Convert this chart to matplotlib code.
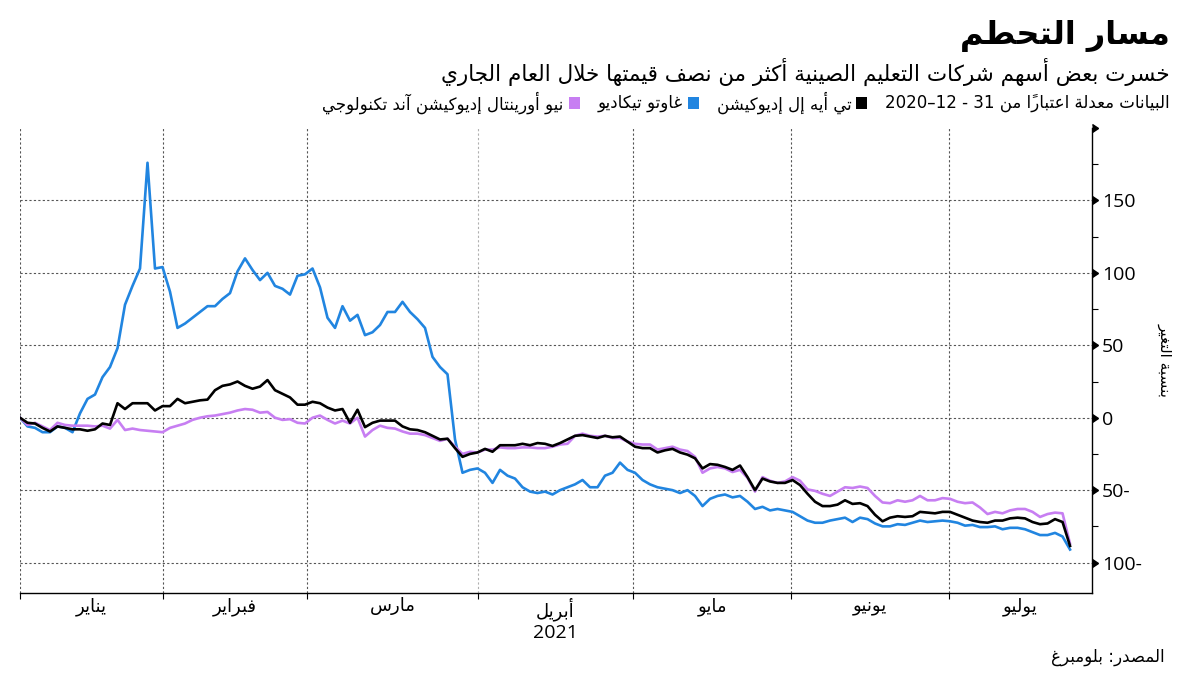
import matplotlib
matplotlib.use("Agg")
import matplotlib.pyplot as plt
import matplotlib.transforms as mtransforms
from matplotlib.patches import Rectangle
from matplotlib.ticker import FixedLocator, MultipleLocator, NullFormatter
import numpy as np

# % change since 31-12-2020, one value per trading day
tal = [0, -3.5, -4, -7, -9.5, -6, -7, -8, -8, -9, -8, -4, -5, 10, 6, 10, 10, 10, 5, 8,
       8, 13, 10, 11, 12, 12.5, 19, 22, 23, 25, 22, 20, 21.5, 26, 19, 16.5, 14, 9, 9, 11,
       10, 7, 5, 6, -3.5, 5.5, -6.5, -3.5, -2, -2, -2, -6, -8, -8.5, -10, -12.5, -15, -14.5, -21, -27,
       -25, -24, -21.5, -23.5, -19, -19, -19, -18, -19, -17.5, -18, -19.5, -17.5, -15, -12.5, -12, -13, -14, -12.5, -13.5,
       -13, -16.5, -20, -21, -21, -24, -22.5, -21.5, -24, -25.5, -28, -35, -32, -32.5, -34, -36, -33, -41, -50, -42,
       -44, -45, -45, -43, -46.5, -52.5, -58, -61, -61, -60, -57, -59.5, -59, -61, -67, -71.5, -69, -68, -68.5, -68,
       -65, -65.5, -66, -65, -65, -67, -69, -71, -72, -72.5, -71, -71, -69.5, -69, -69.5, -72, -73.5, -73, -70, -72,
       -88.5]
gaotu = [0, -6, -7, -10, -10, -6, -7, -10, 3, 13, 16, 28, 35, 48, 78, 91, 103, 176, 103, 104,
         87, 62, 65, 69, 73, 77, 77, 82, 86, 101, 110, 102, 95, 100, 91, 89, 85, 98, 99, 103,
         90, 69, 62, 77, 67, 71, 57, 59, 64, 73, 73, 80, 73, 68, 62, 42, 35, 30, -15, -38,
         -36, -35, -38, -45, -36, -40, -42, -48, -51, -52, -51, -53, -50, -48, -46, -43, -48, -48, -40, -38,
         -31, -36, -38, -43, -46, -48, -49, -50, -52, -50, -54, -61, -56, -54, -53, -55, -54, -58, -63, -61.5,
         -64, -63, -64, -65, -68, -71, -72.5, -72.5, -71, -70, -69, -72, -69, -70, -73, -75, -75, -73.5, -74, -72.5,
         -71, -72, -71.5, -71, -71.5, -72.5, -74.5, -74, -75.5, -75.5, -75, -77, -76, -76, -77, -79, -81, -81, -79.5, -82,
         -91]
new_oriental = [0, -5, -3.5, -6, -8.5, -3.5, -5, -5.5, -5.5, -5.5, -6, -5.5, -7.5, -1.5, -8.5, -7.5, -8.5, -9, -9.5, -10,
                -7, -5.5, -4, -1.5, 0, 1, 1.5, 2.5, 3.5, 5, 6, 5.5, 3.5, 4, 0, -1.5, -1, -3.5, -4, 0,
                1.5, -1.5, -4, -2, -4, 0, -13, -8.5, -5.5, -7, -7.5, -9.5, -11, -11, -12, -14, -16, -14.5, -20, -25,
                -23.5, -24, -22, -22, -20.5, -21, -21, -20.5, -20.5, -21, -21, -20, -18.5, -18, -12.5, -11, -12.5, -13, -12.5, -14,
                -14, -16.5, -18, -18.5, -18.5, -22, -21, -20, -22, -23, -27, -38, -35, -34, -35, -37.5, -36, -41.5, -51, -41,
                -43.5, -45, -44, -41, -43.5, -49.5, -50.5, -52.5, -54, -51, -48, -48.5, -47.5, -48.5, -54, -58.5, -59, -57, -58, -57,
                -54, -57, -57, -55.5, -56, -58, -59, -58.5, -62, -66.5, -65, -66, -64, -63, -63, -65, -68.5, -66.5, -65.5, -66,
                -87]

# month boundaries in trading-day units
month_edges = [0, 19.07, 38.27, 61.07, 81.73, 102.8, 123.87]
x_end = 142.93
month_names = ["يناير", "فبراير", "مارس", "أبريل", "مايو", "يونيو", "يوليو"]
year_label = "2021"
y_ticks = [-100, -50, 0, 50, 100, 150]
y_tick_labels = ["100-", "50-", "0", "50", "100", "150"]

series_names = ["تي أيه إل إديوكيشن", "غاوتو تيكاديو", "نيو أورينتال إديوكيشن آند تكنولوجي"]
series_colors = ["#000000", "#2185e0", "#c77ef2"]

title = "مسار التحطم"
subtitle = "خسرت بعض أسهم شركات التعليم الصينية أكثر من نصف قيمتها خلال العام الجاري"
note = "البيانات معدلة اعتباراً من 31 - 12–2020"
source = "المصدر: بلومبرغ"
ylabel = "بنسبة التغير"

# --- minimal arabic shaping (matplotlib has no bidi / joining) ---
ISO = {'ء': 0xFE80, 'آ': 0xFE81, 'أ': 0xFE83, 'ؤ': 0xFE85, 'إ': 0xFE87, 'ئ': 0xFE89,
       'ا': 0xFE8D, 'ب': 0xFE8F, 'ة': 0xFE93, 'ت': 0xFE95, 'ث': 0xFE99, 'ج': 0xFE9D,
       'ح': 0xFEA1, 'خ': 0xFEA5, 'د': 0xFEA9, 'ذ': 0xFEAB, 'ر': 0xFEAD, 'ز': 0xFEAF,
       'س': 0xFEB1, 'ش': 0xFEB5, 'ص': 0xFEB9, 'ض': 0xFEBD, 'ط': 0xFEC1, 'ظ': 0xFEC5,
       'ع': 0xFEC9, 'غ': 0xFECD, 'ف': 0xFED1, 'ق': 0xFED5, 'ك': 0xFED9, 'ل': 0xFEDD,
       'م': 0xFEE1, 'ن': 0xFEE5, 'ه': 0xFEE9, 'و': 0xFEED, 'ى': 0xFEEF, 'ي': 0xFEF1}
DUAL = set('ئبتثجحخسشصضطظعغفقكلمنهي')
LAMALEF = {'آ': 0xFEF5, 'أ': 0xFEF7, 'إ': 0xFEF9, 'ا': 0xFEFB}


def ar(text):
    units = []
    for ch in text:
        if '\u064b' <= ch <= '\u0652' and units:
            units[-1][1] += ch
        elif ch in LAMALEF and units and units[-1][0] == 'ل' and not units[-1][1]:
            units[-1][0] = 'ل' + ch
        elif ch.isdigit() and units and units[-1][0].isdigit():
            units[-1][0] += ch
        else:
            units.append([ch, ''])
    glyphs = []
    for k, (c, marks) in enumerate(units):
        prev = units[k - 1][0][-1] if k > 0 else ''
        nxt = units[k + 1][0][0] if k + 1 < len(units) else ''
        if len(c) == 2 and c[0] == 'ل':
            glyphs.append(chr(LAMALEF[c[1]] + (1 if prev in DUAL else 0)) + marks)
            continue
        if c not in ISO:
            glyphs.append(c + marks)
            continue
        jp = prev in DUAL and c != 'ء'
        jn = c in DUAL and nxt in ISO and nxt != 'ء'
        base = ISO[c]
        if jp and jn:
            code = base + 3
        elif jp:
            code = base + 1
        elif jn:
            code = base + 2
        else:
            code = base
        glyphs.append(chr(code) + marks)
    return ''.join(reversed(glyphs))


AR = ["DejaVu Sans"]
NUM = ["Open Sans", "DejaVu Sans"]

W, H = 1200, 675
fig = plt.figure(figsize=(12, 6.75), dpi=100)
fig.patch.set_facecolor("white")


def fx(px):
    return px / W


def fy(py):
    return 1 - py / H


ax = fig.add_axes([fx(20), fy(593), fx(1092) - fx(20), fy(128) - fy(593)])

x = np.arange(len(tal))
ax.plot(x, gaotu, color=series_colors[1], lw=1.9, zorder=3)
ax.plot(x, new_oriental, color=series_colors[2], lw=1.9, zorder=4)
ax.plot(x, tal, color=series_colors[0], lw=1.9, zorder=5)

ax.set_xlim(0, x_end)
ax.set_ylim(-121, 200)

for s in ["left", "top"]:
    ax.spines[s].set_visible(False)
ax.spines["bottom"].set_linewidth(1.0)
ax.spines["right"].set_linewidth(1.0)

# y axis on the right
ax.yaxis.tick_right()
ax.yaxis.set_major_locator(FixedLocator(y_ticks))
ax.set_yticklabels(y_tick_labels, fontsize=14, family=NUM)
ax.yaxis.set_minor_locator(MultipleLocator(25))
ax.tick_params(axis="y", which="major", length=0, pad=7)
ax.tick_params(axis="y", which="minor", length=4, width=0.8, direction="out")
tri_levels = y_ticks + [ax.get_ylim()[1]]
ax.plot([1] * len(tri_levels), tri_levels, ls="none", marker=9, ms=6, color="black",
        transform=mtransforms.blended_transform_factory(ax.transAxes, ax.transData),
        clip_on=False, zorder=6)

# x axis: month separators + centred month names
centers = [(a + b) / 2 for a, b in zip(month_edges, month_edges[1:] + [x_end])]
ax.xaxis.set_major_locator(FixedLocator(month_edges))
ax.xaxis.set_major_formatter(NullFormatter())
ax.xaxis.set_minor_locator(FixedLocator(centers))
ax.set_xticklabels([ar(m) for m in month_names], minor=True, fontsize=13, family=AR)
ax.tick_params(axis="x", which="major", length=4, width=0.8, direction="out")
ax.tick_params(axis="x", which="minor", length=0, pad=3)

ax.grid(axis="both", which="major", ls=(0, (2, 2)), color="#555555", lw=0.8)
ax.xaxis.get_gridlines()[3].set_color("#b0b0b0")
ax.set_axisbelow(True)

ax.text(centers[3], -0.085, year_label, transform=mtransforms.blended_transform_factory(ax.transData, ax.transAxes),
        ha="center", va="center", fontsize=14, family=NUM)

# titles
fig.text(fx(1170), fy(36), ar(title), ha="right", va="center", fontsize=23, fontweight="bold", family=AR)
fig.text(fx(1170), fy(72), ar(subtitle), ha="right", va="center", fontsize=15.5, family=AR)
fig.text(fx(1165), fy(657), ar(source), ha="right", va="center", fontsize=12, family=AR)
fig.text(fx(1165), fy(360), ar(ylabel), ha="center", va="center", rotation=270, fontsize=11, family=AR)

# legend row, laid out right to left
renderer = fig.canvas.get_renderer()
xr = 1170
t = fig.text(fx(xr), fy(103), ar(note), ha="right", va="center", fontsize=12, family=AR)
xr = t.get_window_extent(renderer).x0 - 18
for name, col in zip(series_names, series_colors):
    fig.patches.append(Rectangle((fx(xr - 11), fy(109)), 11 / W, 12 / H, transform=fig.transFigure,
                                 facecolor=col, edgecolor="none"))
    xr -= 16
    t = fig.text(fx(xr), fy(103), ar(name), ha="right", va="center", fontsize=12, family=AR)
    xr = t.get_window_extent(renderer).x0 - 18

fig.savefig("out.png", dpi=100)
